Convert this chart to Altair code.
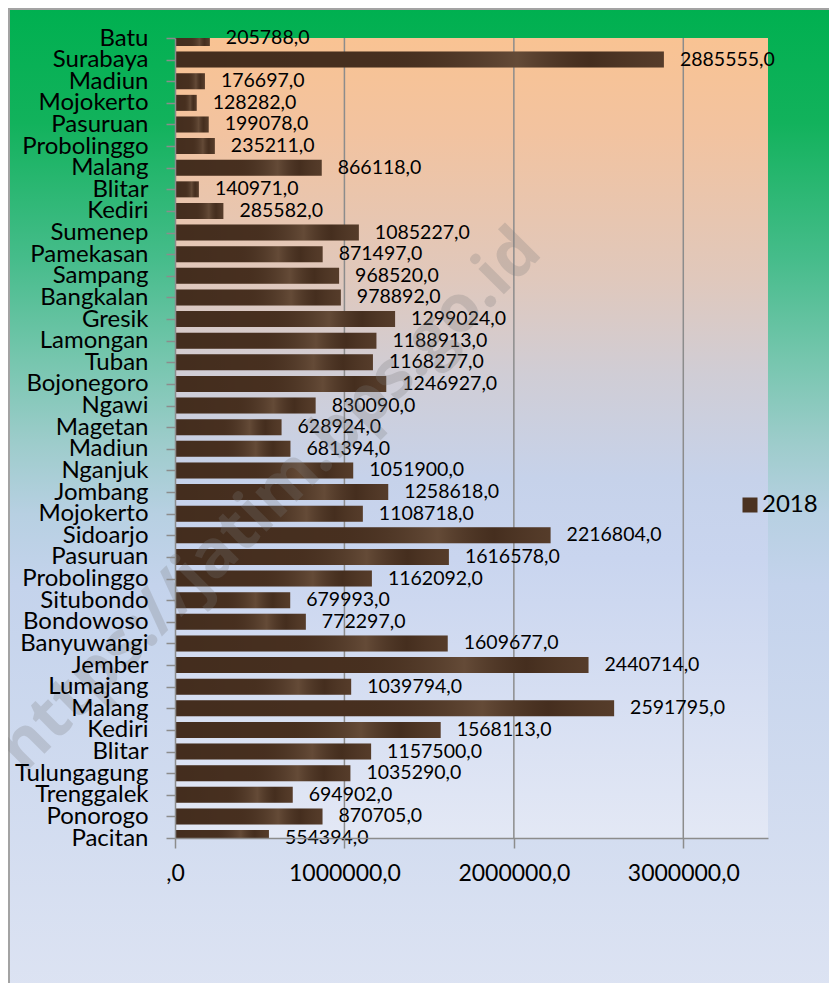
import altair as alt
import pandas as pd

# ---- data ----
regions = ["Batu", "Surabaya", "Madiun", "Mojokerto", "Pasuruan", "Probolinggo",
           "Malang", "Blitar", "Kediri", "Sumenep", "Pamekasan", "Sampang",
           "Bangkalan", "Gresik", "Lamongan", "Tuban", "Bojonegoro", "Ngawi",
           "Magetan", "Madiun", "Nganjuk", "Jombang", "Mojokerto", "Sidoarjo",
           "Pasuruan", "Probolinggo", "Situbondo", "Bondowoso", "Banyuwangi",
           "Jember", "Lumajang", "Malang", "Kediri", "Blitar", "Tulungagung",
           "Trenggalek", "Ponorogo", "Pacitan"]
values_2018 = [205788, 2885555, 176697, 128282, 199078, 235211,
               866118, 140971, 285582, 1085227, 871497, 968520,
               978892, 1299024, 1188913, 1168277, 1246927, 830090,
               628924, 681394, 1051900, 1258618, 1108718, 2216804,
               1616578, 1162092, 679993, 772297, 1609677,
               2440714, 1039794, 2591795, 1568113, 1157500, 1035290,
               694902, 870705, 554394]
series_name = "2018"
x_ticks = [0, 1000000, 2000000, 3000000]
x_max = 3500000
watermark = "https://jatim.bps.go.id"

# ---- layout ----
W, H = 593, 800
PAD = {"left": 167, "top": 30, "right": 61, "bottom": 145}
FONT = "Lato"
GRID = "#8C8C8C"

df = pd.DataFrame({"idx": list(range(len(regions))), "region": regions,
                   "value": values_2018, "series": series_name})
grid_df = pd.DataFrame({"value": x_ticks[1:]})
one = pd.DataFrame({"k": [0]})

names_expr = "split('" + "|".join(regions) + "', '|')[datum.value]"

x_scale = alt.Scale(domain=[0, x_max], nice=False, zero=True)
y_scale = alt.Scale(type="point", padding=0)

x_axis = alt.Axis(title=None, values=x_ticks,
                  labelExpr="datum.value == 0 ? ',0' : format(datum.value, 'd') + ',0'",
                  labelFontSize=23, labelFont=FONT, labelColor="black",
                  tickSize=10, tickColor=GRID, tickWidth=1.5,
                  domainColor=GRID, domainWidth=1.5, labelPadding=14,
                  grid=False, zindex=1, labelFlush=False, labelOverlap=False)
y_axis = alt.Axis(title=None, labelExpr=names_expr, labelFontSize=24,
                  labelFont=FONT, labelColor="black", labelPadding=18,
                  tickSize=9, tickColor=GRID, tickWidth=1.5,
                  domainColor=GRID, domainWidth=1.5, grid=False, zindex=1,
                  labelOverlap=False, labelBound=False)

x_enc = alt.X("value:Q", scale=x_scale, axis=x_axis)
y_enc = alt.Y("idx:O", scale=y_scale, axis=y_axis, sort="ascending")


def grad(stops):
    return alt.LinearGradient(
        gradient="linear", x1=0, x2=0, y1=0, y2=1,
        stops=[alt.GradientStop(offset=o, color=c) for o, c in stops])


outer_bg = alt.Chart(one).mark_rect(
    fill=grad([(0.0, "#00B050"), (0.113, "#12B25C"), (0.246, "#45BC8A"),
               (0.348, "#76C6AE"), (0.43, "#9DCCCB"), (0.5, "#B7D0E2"),
               (0.571, "#C4D3EC"), (1.0, "#DEE4F3")]),
    stroke="#A3A3A3", strokeWidth=2
).encode(x=alt.value(-166), x2=alt.value(W + 120),
         y=alt.value(-29), y2=alt.value(H + 180))

plot_bg = alt.Chart(one).mark_rect(
    fill=grad([(0.0, "#F9C393"), (0.12, "#F2C3A0"), (0.3, "#E0C8BC"),
               (0.42, "#D0CDD5"), (0.55, "#C6D2EA"), (0.65, "#C9D5EF"),
               (1.0, "#E3E8F5")])
).encode(x=alt.value(0), x2=alt.value(W), y=alt.value(0), y2=alt.value(H))

grid = alt.Chart(grid_df).mark_rule(color=GRID, strokeWidth=1.5).encode(
    x=x_enc, y=alt.value(0), y2=alt.value(H))

bars = alt.Chart(df).mark_bar(size=16, clip=True).encode(
    x=x_enc, y=y_enc,
    color=alt.Color("series:N", scale=alt.Scale(range=["#4B3221"]),
                    legend=alt.Legend(orient="none", legendX=563, legendY=455,
                                      title=None, symbolType="square",
                                      symbolSize=225, symbolStrokeWidth=0,
                                      symbolOpacity=1, labelFontSize=24,
                                      labelFont=FONT, labelColor="black",
                                      labelOffset=0, zindex=1)))

bar_tex = alt.Chart(df).mark_bar(
    size=16, clip=True,
    fill=alt.LinearGradient(
        gradient="linear", x1=0, x2=1, y1=0, y2=0,
        stops=[alt.GradientStop(offset=0.0, color="rgba(0,0,0,0.10)"),
               alt.GradientStop(offset=0.45, color="rgba(0,0,0,0.05)"),
               alt.GradientStop(offset=0.7, color="rgba(255,225,190,0.14)"),
               alt.GradientStop(offset=0.85, color="rgba(0,0,0,0.08)"),
               alt.GradientStop(offset=1.0, color="rgba(255,225,190,0.06)")])
).encode(x=x_enc, y=y_enc)

labels = alt.Chart(df).transform_calculate(
    label="format(datum.value, 'd') + ',0'"
).mark_text(align="left", baseline="middle", dx=16, fontSize=19.5,
            font=FONT, color="black").encode(x=x_enc, y=y_enc, text="label:N")

wm = alt.Chart(one).mark_text(
    text=watermark, angle=315, fontSize=66, font="Open Sans",
    fontWeight="bold", color="#7A7A7A", opacity=0.25,
    align="center", baseline="middle"
).encode(x=alt.value(95), y=alt.value(462))

chart = alt.layer(outer_bg, plot_bg, grid, bars, bar_tex, labels, wm).properties(
    width=W, height=H, padding=PAD,
    autosize=alt.AutoSizeParams(type="none")
).configure_view(stroke=None)

chart.save("out.html", embed_options={"renderer": "svg", "actions": False})
